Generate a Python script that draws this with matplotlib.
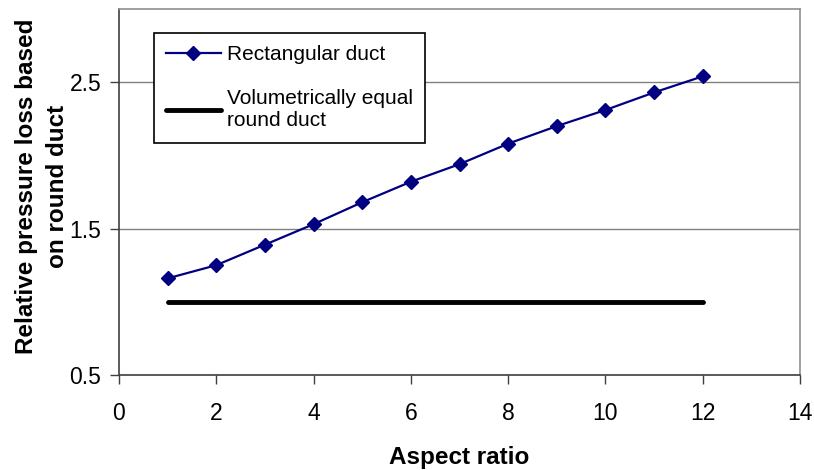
import matplotlib
matplotlib.use("Agg")
import matplotlib.pyplot as plt

plt.rcParams['font.family'] = ['Liberation Sans', 'DejaVu Sans']

# values
aspect_ratio = [1, 2, 3, 4, 5, 6, 7, 8, 9, 10, 11, 12]
rect_loss = [1.16, 1.25, 1.39, 1.53, 1.68, 1.82, 1.94, 2.08, 2.20, 2.31, 2.43, 2.54]
round_x = [1, 12]
round_loss = [1.0, 1.0]

x_ticks = [0, 2, 4, 6, 8, 10, 12, 14]
y_ticks = [0.5, 1.5, 2.5]

fig = plt.figure(figsize=(8.14, 4.70), dpi=100)
ax = fig.add_axes([0.146, 0.202, 0.837, 0.779])

ax.plot(aspect_ratio, rect_loss, color='#000080', lw=1.6, marker='D',
        markersize=7, label='Rectangular duct', zorder=3)
ax.plot(round_x, round_loss, color='black', lw=3.5, solid_capstyle='round',
        label='Volumetrically equal\nround duct', zorder=3)

ax.set_xlim(0, 14)
ax.set_ylim(0.5, 3.0)
ax.set_xticks(x_ticks)
ax.set_yticks(y_ticks)
ax.set_yticklabels(['0.5', '1.5', '2.5'])
ax.yaxis.grid(True, color='#808080', lw=1)
ax.set_axisbelow(True)
ax.tick_params(labelsize=16.5, direction='out', length=6.5, width=1, color='#404040')
ax.tick_params(axis='x', pad=13)
ax.tick_params(axis='y', pad=6)

for s in ['left', 'bottom']:
    ax.spines[s].set_color('#404040')
    ax.spines[s].set_linewidth(1.2)
for s in ['top', 'right']:
    ax.spines[s].set_color('#909090')
    ax.spines[s].set_linewidth(1.2)

ax.set_xlabel('Aspect ratio', fontsize=17.5, fontweight='bold', labelpad=15)
fig.text(0.052, 0.603, 'Relative pressure loss based\non round duct', rotation=90,
         ha='center', va='center', multialignment='center',
         fontsize=17.5, fontweight='bold', linespacing=1.45)

leg = ax.legend(loc='upper left', bbox_to_anchor=(0.189, 0.930),
                bbox_transform=fig.transFigure, fontsize=15, frameon=True,
                fancybox=False, edgecolor='black', handlelength=2.6,
                handletextpad=0.3, borderpad=0.6, labelspacing=1.2,
                borderaxespad=0)
leg.get_frame().set_linewidth(1.2)
leg.get_frame().set_alpha(1)

fig.savefig('out.png', dpi=100)
